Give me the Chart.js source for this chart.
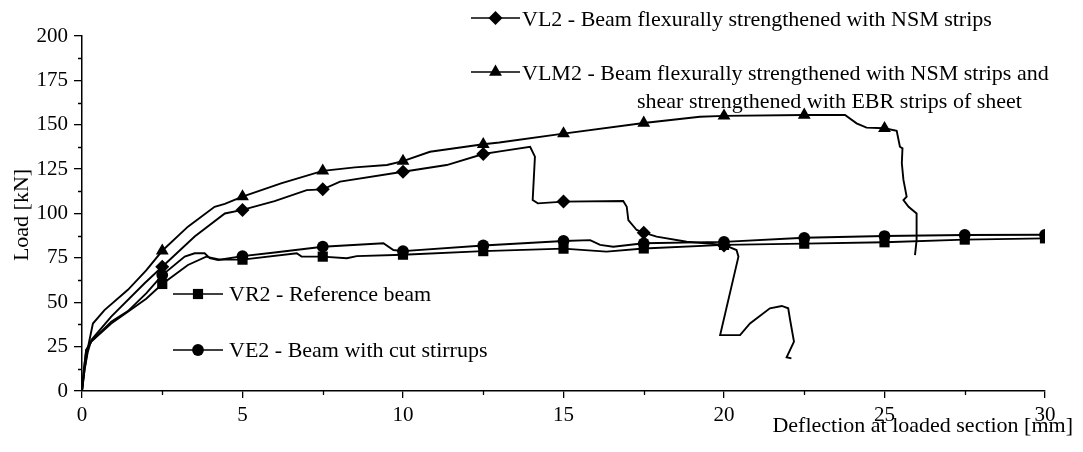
<!DOCTYPE html>
<html>
<head>
<meta charset="utf-8">
<script src="https://cdn.jsdelivr.net/npm/chart.js@4.4.1/dist/chart.umd.min.js"></script>
<style>
  html, body { margin: 0; padding: 0; background: #fff; }
  #wrap { position: relative; width: 1083px; height: 452px; }
</style>
</head>
<body>
<div id="wrap"><canvas id="chart"></canvas></div>
<script>
// Load–deflection curves of the four tested beams: [deflection mm, load kN]
const VL2_CURVE = [[0,0],[0.08,12],[0.18,22],[0.29,28.7],[0.91,41.9],[1.95,60.7],[2.5,70],[3.51,87],[4.45,100],[5,102],[6,107],[7,113.2],[7.5,113.6],[8.04,118],[10,123.5],[11.36,127.3],[12.5,133.5],[13.02,135],[13.96,137.6],[14.11,132],[14.04,107.6],[14.2,105.7],[15,106.7],[16.86,107],[16.97,103.8],[17.02,96.3],[17.28,90.7],[17.5,89.2],[17.9,87],[18.84,84.1],[20,82.3],[20.39,79.4],[20.45,75.7],[19.88,31.5],[20.5,31.5],[20.81,38.1],[21.43,46.6],[21.8,47.9],[22.0,46.6],[22.06,40],[22.18,27.8],[21.95,19],[22.1,18.4]];
const VL2_MARKS = [[2.5,70],[5,102],[7.5,113.6],[10,123.5],[12.5,133.5],[15,106.7],[17.5,89.2],[20,82]];

const VLM2_CURVE = [[0,0],[0.08,12],[0.19,25],[0.34,38],[0.7,45.6],[1.43,57],[2.0,68],[2.5,79],[3.3,92.6],[4.13,103.8],[4.45,105.4],[5,109.5],[6.2,117],[7.5,124],[8.5,126],[9.5,127.3],[10,129.5],[10.84,134.8],[12.5,139],[13,140],[15,145],[17.5,151],[19.25,154.5],[20,155],[22.5,155.5],[23.77,155.5],[24.13,150.8],[24.44,148.4],[25,148],[25.38,146.6],[25.48,137.6],[25.56,136.7],[25.54,128.3],[25.59,118.9],[25.69,109.5],[25.59,107.6],[25.75,103.8],[26.0,100],[26.0,85],[25.95,76.6]];
const VLM2_MARKS = [[2.5,79],[5,109.5],[7.5,124],[10,129.5],[12.5,139],[15,145],[17.5,151],[20,155],[22.5,155.5],[25,148]];

const VR2_CURVE = [[0,0],[0.06,12],[0.13,23],[0.29,27.8],[0.91,38],[1.43,44.7],[2,52],[2.5,60.3],[3.3,71],[3.87,75.7],[4.3,74],[5,74],[6.69,77.6],[6.84,75.7],[7.5,75.7],[8.25,74.8],[8.56,76],[10,76.8],[12.5,78.8],[15,80.2],[16.34,78.5],[17.5,80.3],[20,82.3],[22.5,83],[25,83.8],[27.5,85.3],[30,86]];
const VR2_MARKS = [[2.5,60.3],[5,74],[7.5,75.7],[10,76.8],[12.5,78.8],[15,80.2],[17.5,80.3],[20,82.3],[22.5,83],[25,83.8],[27.5,85.3],[30,86]];

const VE2_CURVE = [[0,0],[0.06,12],[0.13,23],[0.29,28],[0.91,39],[1.43,45],[2,55],[2.5,65.3],[3.2,75.7],[3.51,77.6],[3.82,77.6],[3.98,74.8],[4.24,73.8],[5,76],[6,78],[7.5,81.3],[9.39,83.2],[9.7,79.4],[10,78.8],[12.5,82],[15,84.5],[15.83,85],[16.14,82.3],[16.55,81.3],[17.5,83.2],[20,84],[22.5,86.3],[25,87.3],[27.5,87.9],[30,88]];
const VE2_MARKS = [[2.5,65.3],[5,76],[7.5,81.3],[10,78.8],[12.5,82],[15,84.5],[17.5,83.2],[20,84],[22.5,86.3],[25,87.3],[27.5,87.9],[30,88]];

// Axis ticks
const X_TICKS = [0, 5, 10, 15, 20, 25, 30];
const X_MINOR = [2.5, 7.5, 12.5, 17.5, 22.5, 27.5];
const Y_TICKS = [0, 25, 50, 75, 100, 125, 150, 175, 200];
const Y_MINOR = [12.5, 37.5, 62.5, 87.5, 112.5, 137.5, 162.5, 187.5];

// Texts
const X_TITLE = 'Deflection at loaded section [mm]';
const Y_TITLE = 'Load [kN]';
const SERIES_LABELS = {
  VL2: ['VL2 - Beam flexurally strengthened with NSM strips'],
  VLM2: ['VLM2 - Beam flexurally strengthened with NSM strips and', 'shear strengthened with EBR strips of sheet'],
  VR2: ['VR2 - Reference beam'],
  VE2: ['VE2 - Beam with cut stirrups']
};

const FONT = '"Liberation Serif", "Times New Roman", serif';
const INK = '#000';

const STYLES = {
  VL2:  { pointStyle: 'rectRot',  radius: 7 },
  VLM2: { pointStyle: 'triangle', radius: 7.4 },
  VR2:  { pointStyle: 'rect',     radius: 7.2 },
  VE2:  { pointStyle: 'circle',   radius: 5.9 }
};

const toXY = arr => arr.map(([x, y]) => ({ x, y }));

function seriesDatasets(key, curve, marks) {
  const st = STYLES[key];
  return [
    { label: key, data: toXY(curve), showLine: true, pointRadius: 0, pointHoverRadius: 0,
      borderColor: INK, borderWidth: 1.9, tension: 0, clip: 0, order: 2 },
    { label: key + ' marks', data: toXY(marks), showLine: false, pointStyle: st.pointStyle,
      pointRadius: st.radius, pointHoverRadius: st.radius, backgroundColor: INK,
      borderColor: INK, borderWidth: 0, clip: 0, order: 1 }
  ];
}

function drawMarker(ctx, style, radius, x, y) {
  if (Chart.helpers && Chart.helpers.drawPoint) {
    Chart.helpers.drawPoint(ctx, { pointStyle: style, radius, rotation: 0, borderWidth: 0 }, x, y);
    return;
  }
  ctx.beginPath();
  ctx.arc(x, y, radius, 0, Math.PI * 2);
  ctx.fill();
}

// In-plot legend entries: sample line with marker, then the description
const legendLayout = [
  { key: 'VL2',  x1: 471, x2: 520, lineY: 18,  textX: 522, base: 26,  nextX: 637, nextBase: 0 },
  { key: 'VLM2', x1: 471, x2: 520, lineY: 72,  textX: 522, base: 80,  nextX: 637, nextBase: 108 },
  { key: 'VR2',  x1: 173, x2: 223, lineY: 294, textX: 229, base: 301, nextX: 0,   nextBase: 0 },
  { key: 'VE2',  x1: 173, x2: 223, lineY: 350, textX: 229, base: 357, nextX: 0,   nextBase: 0 }
];

const annotationPlugin = {
  id: 'beamAnnotations',
  afterDraw(chart) {
    const ctx = chart.ctx;
    const xs = chart.scales.x, ys = chart.scales.y;
    ctx.save();
    ctx.strokeStyle = INK;
    ctx.fillStyle = INK;

    // minor ticks
    ctx.lineWidth = 1.3;
    ctx.beginPath();
    X_MINOR.forEach(v => {
      const px = Math.round(xs.getPixelForValue(v)) + 0.5;
      ctx.moveTo(px, xs.top);
      ctx.lineTo(px, xs.top + 4);
    });
    Y_MINOR.forEach(v => {
      const py = Math.round(ys.getPixelForValue(v)) + 0.5;
      ctx.moveTo(ys.right, py);
      ctx.lineTo(ys.right - 4, py);
    });
    ctx.stroke();

    // legend
    ctx.font = '22px ' + FONT;
    ctx.textBaseline = 'alphabetic';
    ctx.textAlign = 'left';
    legendLayout.forEach(item => {
      const st = STYLES[item.key];
      ctx.lineWidth = 1.5;
      ctx.beginPath();
      ctx.moveTo(item.x1, item.lineY);
      ctx.lineTo(item.x2, item.lineY);
      ctx.stroke();
      drawMarker(ctx, st.pointStyle, st.radius, (item.x1 + item.x2) / 2, item.lineY);
      const lines = SERIES_LABELS[item.key];
      ctx.fillText(lines[0], item.textX, item.base);
      if (lines[1]) ctx.fillText(lines[1], item.nextX, item.nextBase);
    });

    // axis titles
    ctx.textAlign = 'right';
    ctx.fillText(X_TITLE, 1073, 432);
    ctx.translate(28, 215);
    ctx.rotate(-Math.PI / 2);
    ctx.textAlign = 'center';
    ctx.fillText(Y_TITLE, 0, 0);
    ctx.restore();
  }
};

const tickFont = { family: FONT, size: 21 };

new Chart(document.getElementById('chart'), {
  type: 'scatter',
  data: {
    datasets: [
      ...seriesDatasets('VR2', VR2_CURVE, VR2_MARKS),
      ...seriesDatasets('VE2', VE2_CURVE, VE2_MARKS),
      ...seriesDatasets('VL2', VL2_CURVE, VL2_MARKS),
      ...seriesDatasets('VLM2', VLM2_CURVE, VLM2_MARKS)
    ]
  },
  options: {
    responsive: true,
    maintainAspectRatio: false,
    animation: false,
    layout: { padding: { top: 36, right: 38, left: 0, bottom: 0 } },
    plugins: { legend: { display: false }, tooltip: { enabled: false } },
    scales: {
      x: {
        type: 'linear', min: 0, max: 30,
        afterBuildTicks: s => { s.ticks = X_TICKS.map(v => ({ value: v })); },
        afterFit: s => { s.height = 61; },
        ticks: { font: tickFont, color: INK, padding: 5, maxRotation: 0, autoSkip: false },
        grid: { drawOnChartArea: false, drawTicks: true, tickLength: 7, color: INK, lineWidth: 1.3 },
        border: { display: true, color: INK, width: 1.5 }
      },
      y: {
        type: 'linear', min: 0, max: 200,
        afterBuildTicks: s => { s.ticks = Y_TICKS.map(v => ({ value: v })); },
        afterFit: s => { s.width = 82; },
        ticks: { font: tickFont, color: INK, padding: 6, autoSkip: false },
        grid: { drawOnChartArea: false, drawTicks: true, tickLength: 8, color: INK, lineWidth: 1.3 },
        border: { display: true, color: INK, width: 1.5 }
      }
    }
  },
  plugins: [annotationPlugin]
});
</script>
</body>
</html>
